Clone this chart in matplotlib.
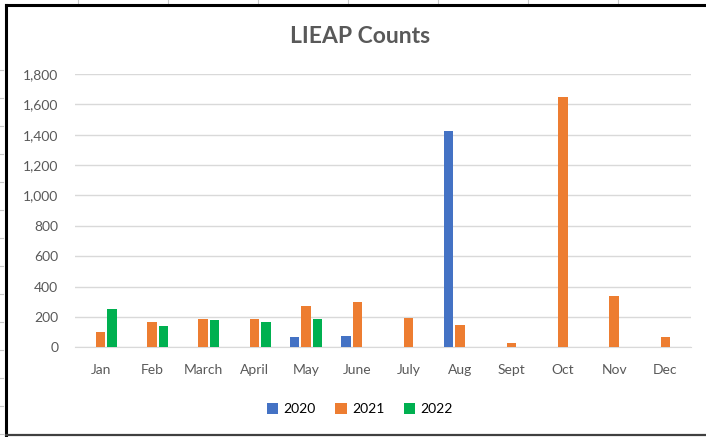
import numpy as np
import matplotlib.pyplot as plt
from matplotlib.lines import Line2D

months = ['Jan', 'Feb', 'March', 'April', 'May', 'June', 'July', 'Aug', 'Sept', 'Oct', 'Nov', 'Dec']
years = ['2020', '2021', '2022']
counts_2020 = [0, 0, 0, 0, 66, 74, 0, 1422, 0, 0, 0, 0]
counts_2021 = [103, 169, 186, 186, 270, 298, 195, 149, 28, 1649, 336, 66]
counts_2022 = [250, 138, 178, 169, 186, 0, 0, 0, 0, 0, 0, 0]
colores = ['#4472C4', '#ED7D31', '#00B050']

plt.rcParams['font.family'] = ['Lato', 'DejaVu Sans']

fig = plt.figure(figsize=(7.06, 4.37), dpi=100)
ax = fig.add_axes([0.106, 0.2053, 0.873, 0.6254])

x = np.arange(len(months))
ancho = 0.185
paso = 0.224
for i, (serie, color) in enumerate(zip([counts_2020, counts_2021, counts_2022], colores)):
    valores = np.array(serie, dtype=float)
    ax.bar(x + (i - 1) * paso, valores, ancho, color=color, label=years[i], zorder=3)

ax.set_xlim(-0.5, len(months) - 0.5)
ax.set_ylim(0, 1800)
ax.set_yticks(range(0, 1801, 200))
ax.set_yticklabels([f'{v:,}' for v in range(0, 1801, 200)])
ax.set_xticks(x)
ax.set_xticklabels(months)
ax.yaxis.grid(True, color='#D9D9D9', linewidth=1, zorder=0)
for lado in ['top', 'right', 'left']:
    ax.spines[lado].set_visible(False)
ax.spines['bottom'].set_color('#D9D9D9')
ax.tick_params(axis='both', length=0, labelsize=10, colors='#595959')
ax.tick_params(axis='x', pad=12)
ax.tick_params(axis='y', pad=12)

fig.text(0.51, 0.917, 'LIEAP Counts', ha='center', va='center',
         fontsize=16.5, fontweight='bold', color='#595959')

fig.legend(loc='center', bbox_to_anchor=(0.51, 0.064), ncol=3, frameon=False,
           fontsize=10, handlelength=0.8, handleheight=0.8, handletextpad=0.4,
           columnspacing=1.4)

# Spreadsheet cell lines behind the chart frame
W, H = 706, 437
for px in [78, 168, 258, 348, 438, 528, 618]:
    fig.add_artist(Line2D([px / W, px / W], [1 - 4 / H, 1], color='#C8C8C8', lw=0.8))
for py in range(70, 437, 28):
    fig.add_artist(Line2D([0, 3 / W], [1 - py / H, 1 - py / H], color='#C8C8C8', lw=0.8))

# Chart frame
fig.add_artist(Line2D([6 / W, 6 / W], [1 - 435 / H, 1 - 5 / H], color='black', lw=2.2))
fig.add_artist(Line2D([6 / W, 1], [1 - 5 / H, 1 - 5 / H], color='black', lw=2.2))
fig.add_artist(Line2D([6 / W, 1], [1 - 435 / H, 1 - 435 / H], color='#404040', lw=1.6))

fig.savefig('out.png', dpi=100)
